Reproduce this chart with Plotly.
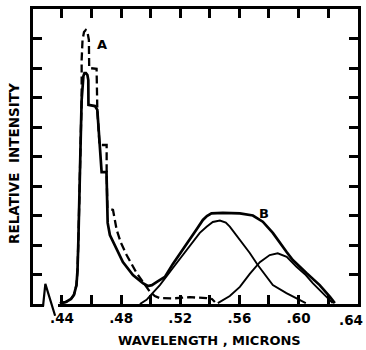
import plotly.graph_objects as go

# ---- data (wavelength in microns, relative intensity) ----
solid_w = [0.4386, 0.4427, 0.4461, 0.4481, 0.4498, 0.4505, 0.4511, 0.4517, 0.4523, 0.4528,
           0.4533, 0.4539, 0.4545, 0.4552, 0.4562, 0.4572, 0.4578, 0.4579, 0.4623, 0.4639,
           0.4654, 0.4668, 0.4701, 0.4704, 0.4707, 0.4709, 0.4724, 0.4758, 0.4812, 0.4880,
           0.4947, 0.4981, 0.5008, 0.5042, 0.5096, 0.5150, 0.5197, 0.5265, 0.5312, 0.5353,
           0.5380, 0.5411, 0.5488, 0.5603, 0.5691, 0.5758, 0.5826, 0.5918, 0.5961, 0.6053,
           0.6143, 0.6211, 0.6245]
solid_v = [0.02, 0.07, 0.17, 0.31, 0.64, 1.15, 2.17, 3.19, 4.54, 5.90,
           6.92, 7.42, 7.73, 7.83, 7.83, 7.76, 7.59, 6.75, 6.71, 6.58,
           5.39, 4.47, 4.47, 3.86, 3.25, 2.75, 2.34, 2.00, 1.42, 0.98,
           0.71, 0.61, 0.64, 0.75, 0.92, 1.36, 1.69, 2.17, 2.54, 2.85,
           2.98, 3.07, 3.09, 3.07, 3.00, 2.79, 2.41, 1.77, 1.49, 1.05,
           0.64, 0.25, 0.03]

dash_w = [0.4386, 0.4427, 0.4461, 0.4481, 0.4498, 0.4505, 0.4511, 0.4517, 0.4523, 0.4528,
          0.4533, 0.4533, 0.4539, 0.4549, 0.4561, 0.4572, 0.4582, 0.4584, 0.4634, 0.4639,
          0.4654, 0.4702, 0.4702, 0.4705, 0.4707, 0.4745, 0.4770, 0.4799, 0.4837, 0.4905,
          0.4961, 0.4995, 0.5028, 0.5062, 0.5150, 0.5265, 0.5378, 0.5414, 0.5434]
dash_v = [0.02, 0.07, 0.17, 0.31, 0.64, 1.15, 2.17, 3.19, 4.54, 5.90,
          6.92, 8.27, 8.95, 9.22, 9.29, 9.22, 8.95, 8.00, 7.97, 6.58,
          5.39, 5.39, 4.47, 3.86, 3.25, 3.19, 2.51, 2.07, 1.66, 1.05,
          0.64, 0.41, 0.27, 0.20, 0.19, 0.23, 0.20, 0.17, 0.07]

g1_w = [0.4927, 0.4972, 0.5008, 0.5062, 0.5150, 0.5197, 0.5265, 0.5332, 0.5378, 0.5420,
        0.5468, 0.5508, 0.5535, 0.5603, 0.5670, 0.5724, 0.5826, 0.5918, 0.6009, 0.6049]
g1_v = [0.00, 0.14, 0.34, 0.64, 1.22, 1.53, 2.00, 2.41, 2.62, 2.78,
        2.83, 2.76, 2.62, 2.17, 1.73, 1.32, 0.64, 0.37, 0.14, 0.03]

g2_w = [0.5454, 0.5535, 0.5603, 0.5670, 0.5738, 0.5805, 0.5859, 0.5920, 0.5986, 0.6049,
        0.6096, 0.6157, 0.6211, 0.6231]
g2_v = [0.03, 0.27, 0.58, 1.02, 1.42, 1.66, 1.72, 1.60, 1.26, 0.98,
        0.71, 0.41, 0.14, 0.03]

x_tickvals = [0.44, 0.46, 0.48, 0.50, 0.52, 0.54, 0.56, 0.58, 0.60, 0.62, 0.64]
x_ticktext = [".44", "", ".48", "", ".52", "", ".56", "", ".60", "", ""]
edge_tick_label = ".64"   # last label, kept inside the window
y_tickvals = [1, 2, 3, 4, 5, 6, 7, 8, 9]

label_a = (0.4670, 8.81, "A")
label_b = (0.5765, 3.08, "B")

FONT = "DejaVu Sans"
fig = go.Figure()
fig.add_trace(go.Scatter(x=solid_w, y=solid_v, mode="lines",
                         line=dict(color="black", width=2.7), showlegend=False))
fig.add_trace(go.Scatter(x=dash_w, y=dash_v, mode="lines",
                         line=dict(color="black", width=2.3, dash="8px,4px"), showlegend=False))
fig.add_trace(go.Scatter(x=g1_w, y=g1_v, mode="lines",
                         line=dict(color="black", width=1.9), showlegend=False))
fig.add_trace(go.Scatter(x=g2_w, y=g2_v, mode="lines",
                         line=dict(color="black", width=1.9), showlegend=False))

for (lx, ly, lt) in (label_a, label_b):
    fig.add_annotation(x=lx, y=ly, text="<b>%s</b>" % lt, showarrow=False,
                       xanchor="center", yanchor="middle",
                       font=dict(family=FONT, size=13, color="black"))

fig.add_annotation(xref="paper", yref="paper", x=-0.0585, y=0.478,
                   xanchor="center", yanchor="middle",
                   text="<b>RELATIVE  INTENSITY</b>", textangle=-90, showarrow=False,
                   font=dict(family=FONT, size=13.5, color="black"))
fig.add_annotation(xref="paper", yref="paper", x=0.5446, y=-0.1254,
                   xanchor="center", yanchor="middle",
                   text="<b>WAVELENGTH , MICRONS</b>", showarrow=False,
                   font=dict(family=FONT, size=13, color="black"))
fig.add_annotation(xref="paper", yref="paper", x=1.0215, y=-0.053,
                   xanchor="right", yanchor="middle",
                   text="<b>%s</b>" % edge_tick_label, showarrow=False,
                   font=dict(family=FONT, size=13.5, color="black"))

# axis break on bottom-left
fig.add_shape(type="rect", xref="paper", yref="paper", x0=0.034, x1=0.077,
              y0=-0.02, y1=0.012, fillcolor="white", line=dict(width=0), layer="above")
fig.add_shape(type="path", xref="paper", yref="paper",
              path="M 0.031 -0.006 L 0.038 0.068 L 0.068 -0.04",
              line=dict(color="black", width=2.2), layer="above")

fig.update_layout(
    width=366, height=350,
    margin=dict(l=33, r=8, t=9, b=46),
    paper_bgcolor="white", plot_bgcolor="white",
    xaxis=dict(range=[0.4204, 0.6402], showgrid=False, zeroline=False, automargin=False,
               showline=True, linewidth=3, linecolor="black", mirror="ticks",
               ticks="inside", ticklen=9, tickwidth=2.5, tickcolor="black",
               tickvals=x_tickvals, ticktext=x_ticktext,
               tickfont=dict(family=FONT, size=13.5, color="black", weight="bold"),
               ticklabelstandoff=0),
    yaxis=dict(range=[0, 10], showgrid=False, zeroline=False, automargin=False,
               showline=True, linewidth=3, linecolor="black", mirror="ticks",
               ticks="inside", ticklen=9, tickwidth=2.5, tickcolor="black",
               tickvals=y_tickvals, showticklabels=False),
)

fig.write_html("out.html")
